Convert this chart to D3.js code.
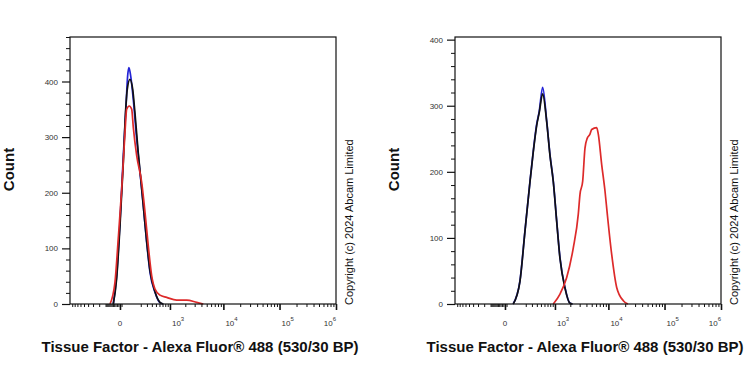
<!DOCTYPE html>
<html lang="en">
<head>
    <meta charset="UTF-8">
    <title>Tissue Factor flow cytometry</title>
    <script src="https://d3js.org/d3.v7.min.js"></script>
    <style>
        body {
            margin: 0;
            background: #fff;
            font-family: "Liberation Sans", Arial, sans-serif;
        }
        .tick-label {
            font-size: 8px;
            fill: #333;
        }
        .axis-title {
            font-size: 15px;
            font-weight: bold;
            fill: #111;
        }
        .copyright {
            font-size: 11px;
            fill: #111;
        }
    </style>
</head>
<body>
    <div id="chart"></div>

    <script>
        // texts
        const xTitle = "Tissue Factor - Alexa Fluor® 488 (530/30 BP)";
        const yTitle = "Count";
        const copyrightText = "Copyright (c) 2024 Abcam Limited";

        // x axis ticks (biexponential display)
        const xMajorTicks = [0, 1e3, 1e4, 1e5, 1e6];
        const xMajorExp = [null, "3", "4", "5", "6"];

        // y axis ticks
        const yMajorTicks = [0, 100, 200, 300, 400];
        const leftYMax = 480;
        const rightYMax = 404;

        // histograms: [fluorescence, count]
        const leftBlue = [
            [-47, 0], [-22, 50], [0, 147], [22, 267], [42, 356], [55, 410], [66, 425],
            [82, 410], [108, 368], [146, 297], [189, 237], [238, 177], [295, 111],
            [360, 57], [475, 21], [616, 2], [726, 0]
        ];
        const leftBlack = [
            [-47, 0], [-22, 45], [0, 140], [22, 255], [34, 326], [52, 386], [75, 404],
            [102, 386], [126, 344], [166, 272], [189, 240], [238, 177], [295, 113],
            [360, 60], [475, 22], [616, 3], [726, 0]
        ];
        const leftRed = [
            [-75, 0], [-34, 39], [-11, 117], [11, 207], [34, 308], [47, 350], [69, 356],
            [92, 350], [108, 318], [146, 267], [213, 219], [266, 165], [325, 105],
            [396, 51], [475, 27], [616, 16], [857, 12], [1363, 7], [2125, 7],
            [3270, 3], [4326, 0]
        ];

        const rightBlue = [
            [60, 0], [126, 35], [189, 111], [266, 186], [325, 231], [396, 272],
            [457, 292], [547, 328], [671, 277], [789, 226], [925, 186], [1084, 126],
            [1262, 70], [1581, 25], [1973, 1], [2200, 0]
        ];
        const rightBlack = [
            [60, 0], [126, 34], [189, 110], [266, 185], [325, 230], [396, 270],
            [457, 290], [547, 318], [671, 276], [789, 225], [925, 185], [1084, 125],
            [1262, 69], [1581, 24], [1973, 1], [2200, 0]
        ];
        const rightRed = [
            [925, 0], [1262, 15], [1706, 40], [2279, 85], [2828, 136], [3041, 166],
            [3413, 186], [3762, 236], [4148, 251], [4647, 257], [4991, 264], [6153, 267],
            [6579, 257], [7578, 211], [8693, 171], [9563, 136], [11469, 75],
            [14096, 25], [18495, 5], [22425, 0]
        ];

        const colors = { blue: "#2323d6", black: "#111111", red: "#dd2a2a" };

        const W = 750, H = 375;
        const plotW = 266, plotH = 267;

        const svg = d3.select("#chart")
            .append("svg")
            .attr("width", W)
            .attr("height", H);

        function drawPanel(left, top, yMax, series) {
            const g = svg.append("g").attr("transform", `translate(${left},${top})`);

            const x = d3.scaleSymlog()
                .constant(150)
                .domain([-1000, 1e6])
                .range([0, plotW]);

            const y = d3.scaleLinear()
                .domain([0, yMax])
                .range([plotH, 0]);

            // histograms
            const line = d3.line()
                .x(d => x(d[0]))
                .y(d => y(d[1]))
                .curve(d3.curveMonotoneX);

            series.forEach(s => {
                g.append("path")
                    .datum(s.data)
                    .attr("fill", "none")
                    .attr("stroke", s.color)
                    .attr("stroke-width", 1.7)
                    .attr("stroke-linejoin", "round")
                    .attr("d", line);
            });

            // frame
            g.append("rect")
                .attr("x", 0)
                .attr("y", 0)
                .attr("width", plotW)
                .attr("height", plotH)
                .attr("fill", "none")
                .attr("stroke", "#111")
                .attr("stroke-width", 1.2);

            // y axis
            const yMinor = d3.range(0, yMax + 1, 20).filter(v => v % 100 !== 0);
            g.append("g")
                .call(d3.axisLeft(y).tickValues(yMinor).tickSize(4).tickFormat(""))
                .call(a => a.select(".domain").remove())
                .selectAll("line").attr("stroke", "#111");

            const yAx = g.append("g")
                .call(d3.axisLeft(y).tickValues(yMajorTicks).tickSize(8).tickPadding(4))
                .call(a => a.select(".domain").remove());
            yAx.selectAll("line").attr("stroke", "#111").attr("stroke-width", 1.2);
            yAx.selectAll("text")
                .attr("class", "tick-label")
                .style("font-family", "inherit")
                .attr("font-size", null);

            // x axis minor ticks
            const xMinor = [];
            d3.range(-120, 20, 10).forEach(v => { if (v !== 0) xMinor.push(v); });
            d3.range(200, 1000, 100).forEach(v => { xMinor.push(v); xMinor.push(-v); });
            [1e3, 1e4, 1e5].forEach(dec => {
                d3.range(2, 10).forEach(k => xMinor.push(k * dec));
            });

            g.append("g")
                .attr("transform", `translate(0,${plotH})`)
                .call(d3.axisBottom(x).tickValues(xMinor).tickSize(3).tickFormat(""))
                .call(a => a.select(".domain").remove())
                .selectAll("line").attr("stroke", "#111");

            const xAx = g.append("g")
                .attr("transform", `translate(0,${plotH})`)
                .call(d3.axisBottom(x).tickValues(xMajorTicks).tickSize(6).tickFormat(""))
                .call(a => a.select(".domain").remove());
            xAx.selectAll("line").attr("stroke", "#111").attr("stroke-width", 1.6);

            // x tick labels: 0 and 10^n
            const labels = g.append("g").attr("transform", `translate(0,${plotH + 22})`);
            xMajorTicks.forEach((v, i) => {
                const exp = xMajorExp[i];
                const last = i === xMajorTicks.length - 1;
                const t = labels.append("text")
                    .attr("class", "tick-label")
                    .attr("x", exp === null ? x(v) : (last ? x(v) : x(v) + 2))
                    .attr("y", 0)
                    .attr("text-anchor", exp === null ? "middle" : (last ? "end" : "start"));
                if (exp === null) {
                    t.text("0");
                } else {
                    t.append("tspan").text("10");
                    t.append("tspan")
                        .attr("dy", -5)
                        .style("font-size", "6px")
                        .text(exp);
                }
            });

            // axis titles
            g.append("text")
                .attr("class", "axis-title")
                .attr("x", plotW / 2 - 3)
                .attr("y", plotH + 48)
                .attr("text-anchor", "middle")
                .text(xTitle);

            g.append("text")
                .attr("class", "axis-title")
                .attr("transform", `translate(${-56},${plotH / 2 - 1}) rotate(-90)`)
                .attr("text-anchor", "middle")
                .text(yTitle);

            g.append("text")
                .attr("class", "copyright")
                .attr("transform", `translate(${plotW + 17},${plotH + 1}) rotate(-90)`)
                .attr("text-anchor", "start")
                .text(copyrightText);
        }

        drawPanel(70, 37, leftYMax, [
            { data: leftBlue, color: colors.blue },
            { data: leftBlack, color: colors.black },
            { data: leftRed, color: colors.red }
        ]);

        drawPanel(455, 37, rightYMax, [
            { data: rightBlue, color: colors.blue },
            { data: rightBlack, color: colors.black },
            { data: rightRed, color: colors.red }
        ]);
    </script>
</body>
</html>
